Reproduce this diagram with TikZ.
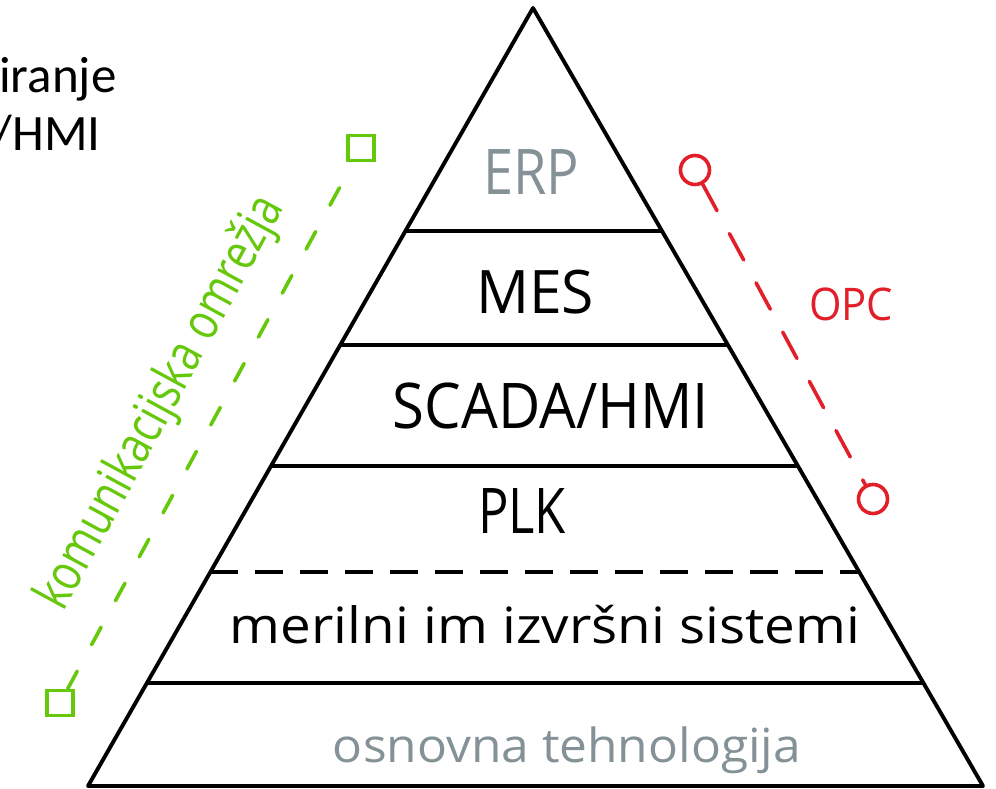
\documentclass[tikz,border=0pt]{standalone}
\usepackage{fontspec}
\usetikzlibrary{calc}
\newfontfamily\handfont{Open Sans}
\newfontfamily\calfont{Carlito}
\definecolor{netgreen}{RGB}{102,200,10}
\definecolor{opcred}{RGB}{226,30,40}
\definecolor{layergrey}{RGB}{132,146,152}
% scale a label horizontally to a given width, keeping its height
\newcommand\hw[2]{\resizebox{#1}{\height}{#2}}

\begin{document}
\begin{tikzpicture}[x=1pt,y=-1pt,
  edge/.style={line width=3.9pt, line join=round, line cap=round},
  layer/.style={line width=3.9pt},
  layertext/.style={anchor=base, inner sep=0pt},
  netsq/.style={draw=netgreen, line width=3.6pt, minimum width=26pt, minimum height=25pt, inner sep=0pt},
  opcring/.style={circle, draw=opcred, line width=3.6pt, minimum size=29pt, inner sep=0pt},
  netline/.style={draw=netgreen, line width=3.6pt, line cap=round, dash pattern=on 20pt off 30pt},
  opcline/.style={draw=opcred, line width=3.6pt, line cap=round, dash pattern=on 30pt off 26pt}]
\useasboundingbox (0,0) rectangle (996,789);

% heading text running off the left edge
\node[anchor=base west, inner sep=0pt, font=\calfont\fontsize{51}{60}\selectfont] (h1) at (-1,93) {iranje};
\node[anchor=base east, inner sep=0pt, font=\calfont\fontsize{51}{60}\selectfont] (h2) at (101,150) {/HMI};

% pyramid outline
\coordinate (apex) at (533,8);
\coordinate (bl) at (88,786);
\coordinate (br) at (983,786);
\draw[edge] (bl) -- (apex) -- (br) -- cycle;

% layer boundaries
\foreach \yy in {231,345,466,683}{
  \draw[layer] ($(apex)!{(\yy-8)/778}!(bl)$) -- ($(apex)!{(\yy-8)/778}!(br)$);
}
\draw[layer, dash pattern=on 28pt off 17pt] ($(apex)!{(572-8)/778}!(bl)$) -- ($(apex)!{(572-8)/778}!(br)$);

% layer labels
\node[layertext, text=layergrey, font=\handfont\fontsize{63}{70}\selectfont] (erp) at (531,195) {\hw{96pt}{ERP}};
\node[layertext, font=\handfont\fontsize{60}{70}\selectfont] (mes) at (535,313) {\hw{118pt}{MES}};
\node[layertext, font=\handfont\fontsize{63}{70}\selectfont] (scada) at (551,428) {\hw{316pt}{SCADA/HMI}};
\node[layertext, font=\handfont\fontsize{63}{70}\selectfont] (plk) at (522,533) {\hw{88pt}{PLK}};
\node[layertext, font=\handfont\fontsize{50}{60}\selectfont] (meas) at (545,643) {\hw{630pt}{merilni im izvršni sistemi}};
\node[layertext, text=layergrey, font=\handfont\fontsize{47}{56}\selectfont] (base) at (567,762) {\hw{468pt}{osnovna tehnologija}};

% communication networks span
\node[netsq] (g1) at (60,703) {};
\node[netsq] (g2) at (361,148) {};
\draw[netline] (g1) -- (g2);
\node[layertext, text=netgreen, rotate=61.5, font=\handfont\fontsize{52}{60}\selectfont] (net) at (174,410) {\hw{462pt}{komunikacijska omrežja}};

% OPC span
\node[opcring] (r1) at (695,170) {};
\node[opcring] (r2) at (873,499) {};
\draw[opcline] (r1) -- (r2);
\node[layertext, text=opcred, font=\handfont\fontsize{45}{54}\selectfont] (opc) at (851,320) {\hw{84pt}{OPC}};
\end{tikzpicture}
\end{document}
